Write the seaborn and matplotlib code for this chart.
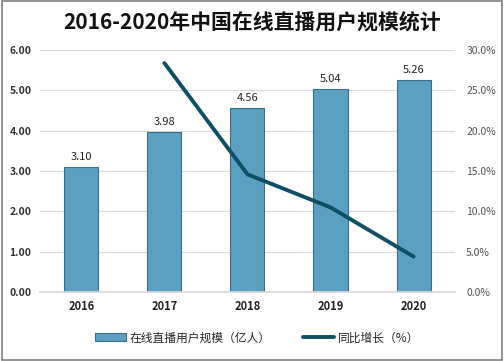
import numpy as np
import pandas as pd
import matplotlib
matplotlib.use('Agg')
import matplotlib.pyplot as plt
import seaborn as sns
from matplotlib.patches import Rectangle
from matplotlib.lines import Line2D

sns.set_theme(style='white')
plt.rcParams['font.family'] = ['Noto Sans CJK SC', 'DejaVu Sans']

years = ['2016', '2017', '2018', '2019', '2020']
users = [3.10, 3.98, 4.56, 5.04, 5.26]
growth_years = ['2017', '2018', '2019', '2020']
growth = [28.4, 14.6, 10.5, 4.4]

BAR_COLOR = '#5ba0c2'
BAR_EDGE = '#3b6e88'
LINE_COLOR = '#0f4f66'

fig = plt.figure(figsize=(5.04, 3.61), dpi=100)
fig.patch.set_facecolor('white')
fig.add_artist(Rectangle((0.004, 0.004), 0.992, 0.992, transform=fig.transFigure,
                         fill=False, edgecolor='#808080', linewidth=1.2))

ax = fig.add_axes([0.079, 0.191, 0.824, 0.670])
df = pd.DataFrame({'year': years, 'users': users})
sns.barplot(data=df, x='year', y='users', ax=ax, color=BAR_COLOR, width=0.41,
            edgecolor=BAR_EDGE, linewidth=0.8, saturation=1)
for i, v in enumerate(users):
    ax.text(i, v + 0.12, f'{v:.2f}', ha='center', va='bottom', fontsize=8, color='#222222')

ax.set_ylim(0, 6)
ax.set_xlim(-0.5, 4.5)
ax.set_yticks(np.arange(0, 6.01, 1))
ax.set_yticklabels([f'{t:.2f}' for t in np.arange(0, 6.01, 1)], fontsize=7.5,
                   fontweight='bold', color='#333333')
ax.set_xticklabels(years, fontsize=8, fontweight='bold', color='#222222')
ax.set_xlabel('')
ax.set_ylabel('')
ax.yaxis.grid(True, color='#d9d9d9', linewidth=0.8)
ax.set_axisbelow(True)
for s in ax.spines.values():
    s.set_visible(False)
ax.spines['bottom'].set_visible(True)
ax.spines['bottom'].set_color('#d9d9d9')
ax.tick_params(axis='both', length=0, pad=6)

ax2 = ax.twinx()
pos = [years.index(y) for y in growth_years]
sns.lineplot(x=pos, y=growth, ax=ax2, color=LINE_COLOR, linewidth=2.8)
ax2.set_ylim(0, 30)
ax2.set_yticks(np.arange(0, 30.1, 5))
ax2.set_yticklabels([f'{t:.1f}%' for t in np.arange(0, 30.1, 5)], fontsize=7.5, color='#555555')
ax2.tick_params(axis='y', length=0, pad=8)
for s in ax2.spines.values():
    s.set_visible(False)

fig.text(0.5, 0.935, '2016-2020年中国在线直播用户规模统计', ha='center', va='center',
         fontsize=15, fontweight='bold', color='#111111')

handles = [Rectangle((0, 0), 1, 1, facecolor=BAR_COLOR, edgecolor=BAR_EDGE, linewidth=0.8),
           Line2D([0], [0], color=LINE_COLOR, linewidth=2.8)]
fig.legend(handles, ['在线直播用户规模（亿人）', '同比增长（%）'], loc='center',
           bbox_to_anchor=(0.51, 0.064), ncol=2, frameon=False, fontsize=8.5,
           handlelength=2.6, handleheight=0.6, columnspacing=2.8, handletextpad=0.3)

fig.savefig('out.png', dpi=100)
